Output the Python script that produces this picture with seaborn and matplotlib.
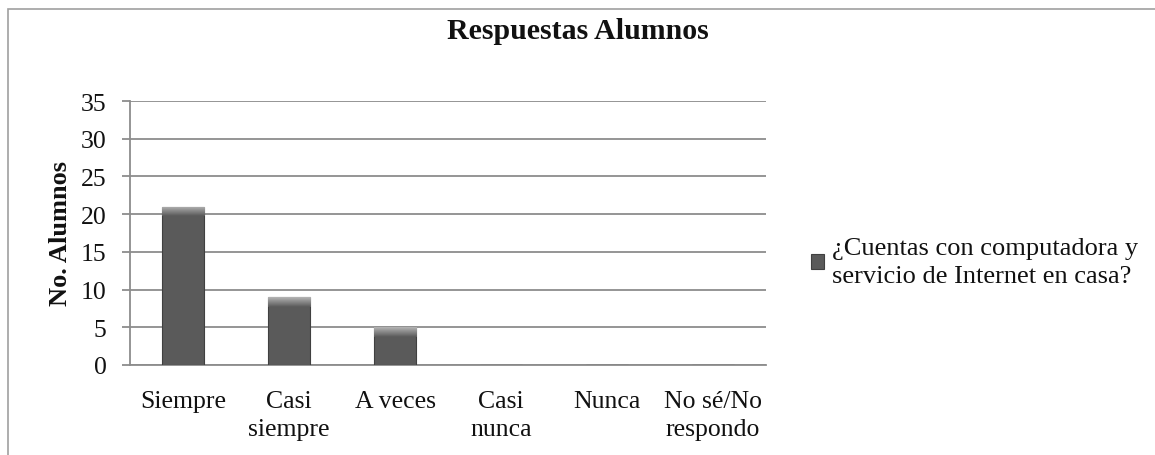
import matplotlib
matplotlib.use("Agg")
import matplotlib.pyplot as plt
from matplotlib.patches import Rectangle
import seaborn as sns
import numpy as np
import pandas as pd

categorias = ["Siempre", "Casi\nsiempre", "A veces", "Casi\nnunca", "Nunca", "No sé/No\nrespondo"]
alumnos = [21, 9, 5, 0, 0, 0]
serie = "¿Cuentas con computadora y\nservicio de Internet en casa?"
y_ticks = [0, 5, 10, 15, 20, 25, 30, 35]

sns.set_theme(style="white")
plt.rcParams["font.family"] = ["Liberation Serif", "DejaVu Serif"]

df = pd.DataFrame({"Respuesta": categorias, "Alumnos": alumnos})

fig = plt.figure(figsize=(11.55, 4.56), dpi=100)
ax = fig.add_axes([0.1126, 0.1974, 0.5506, 0.5789])

sns.barplot(data=df, x="Respuesta", y="Alumnos", color="#5a5a5a", width=0.40,
            edgecolor="#404040", linewidth=0.8, saturation=1, ax=ax, zorder=3,
            label=serie)

# brillo superior de las barras (efecto 3D de Excel)
grad = np.linspace(0, 1, 50).reshape(-1, 1)
cmap = matplotlib.colors.LinearSegmentedColormap.from_list("brillo", ["#5a5a5a", "#b4b4b4"])
for p in ax.patches:
    h = p.get_height()
    if h <= 0:
        continue
    x0 = p.get_x()
    w = p.get_width()
    im = ax.imshow(grad, extent=(x0, x0 + w, h - 1.3, h), origin="lower", cmap=cmap,
                   aspect="auto", zorder=4)
    im.set_clip_path(p)

ax.set_xlim(-0.5, len(categorias) - 0.5)
ax.set_ylim(0, 35)
ax.set_yticks(y_ticks)
ax.grid(axis="y", color="#8c8c8c", linewidth=1.3, zorder=0)
ax.set_axisbelow(True)
for s in ["top", "right"]:
    ax.spines[s].set_visible(False)
for s in ["left", "bottom"]:
    ax.spines[s].set_color("#8c8c8c")
    ax.spines[s].set_linewidth(1.3)
ax.tick_params(axis="y", left=True, length=6, width=1.3, color="#8c8c8c",
               labelsize=18.5, pad=11, labelcolor="#111111")
ax.tick_params(axis="x", bottom=False, labelsize=18.5, pad=12, labelcolor="#111111")
for t in ax.get_xticklabels():
    t.set_multialignment("center")
    t.set_linespacing(1.35)

ax.set_xlabel("")
ax.set_ylabel("No. Alumnos", fontsize=19, fontweight="bold", color="#111111")
ax.yaxis.set_label_coords(-0.092, 0.5)
fig.text(0.5, 0.93, "Respuestas Alumnos", fontsize=21.5, fontweight="bold",
         ha="center", va="center", color="#111111")

leg = ax.legend(loc="center left", bbox_to_anchor=(1.07, 0.39), frameon=False,
                fontsize=19, handlelength=0.5, handleheight=0.5, handletextpad=0.3,
                borderaxespad=0, borderpad=0)
for t in leg.get_texts():
    t.set_color("#111111")
    t.set_linespacing(1.35)

# marco exterior del grafico
fig.patches.append(Rectangle((0.007, -0.1), 1.1, 1.078, transform=fig.transFigure,
                             fill=False, edgecolor="#a0a0a0", linewidth=1.2))

fig.savefig("out.png", dpi=100, facecolor="white")
